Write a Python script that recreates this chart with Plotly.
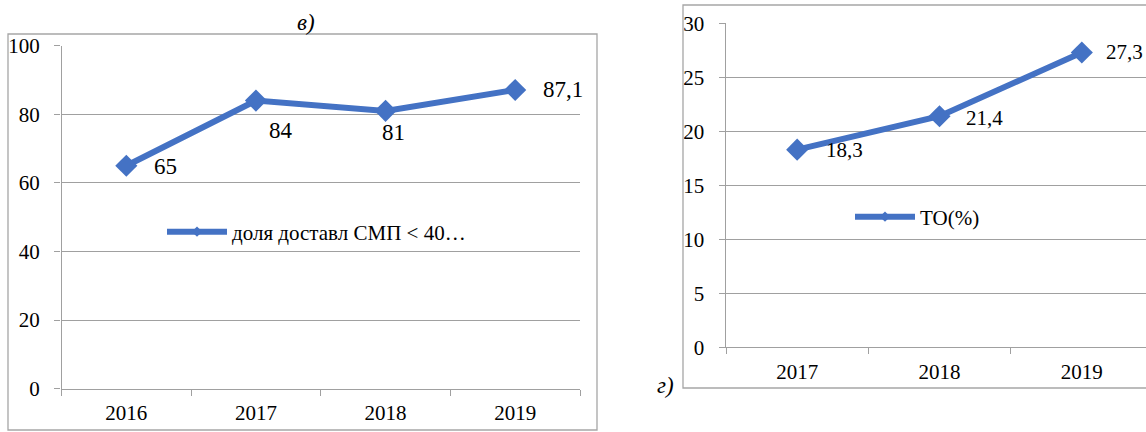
import plotly.graph_objects as go

W, H = 1146, 432

# ---- data ----
years_v = ["2016", "2017", "2018", "2019"]
share_v = [65, 84, 81, 87.1]
labels_v = ["65", "84", "81", "87,1"]
name_v = "доля доставл СМП < 40…"

years_g = ["2017", "2018", "2019"]
to_g = [18.3, 21.4, 27.3]
labels_g = ["18,3", "21,4", "27,3"]
name_g = "ТО(%)"

# ---- style ----
BLUE = "#4472C4"
GRID = "#A0A0A0"
FONT = "Liberation Serif"

def px(x):
    return x / W

def py(y):
    return 1 - y / H

fig = go.Figure()

# chart "в"
fig.add_trace(go.Scatter(x=years_v, y=share_v, mode="lines+markers",
                         line=dict(color=BLUE, width=6),
                         marker=dict(symbol="diamond", size=17, color=BLUE),
                         showlegend=False, xaxis="x", yaxis="y"))
fig.add_trace(go.Scatter(x=[None], y=[None], mode="lines+markers", name=name_v,
                         line=dict(color=BLUE, width=6),
                         marker=dict(symbol="diamond", size=8, color=BLUE),
                         legend="legend", xaxis="x", yaxis="y"))

# chart "г"
fig.add_trace(go.Scatter(x=years_g, y=to_g, mode="lines+markers",
                         line=dict(color=BLUE, width=6),
                         marker=dict(symbol="diamond", size=17, color=BLUE),
                         showlegend=False, xaxis="x2", yaxis="y2"))
fig.add_trace(go.Scatter(x=[None], y=[None], mode="lines+markers", name=name_g,
                         line=dict(color=BLUE, width=6),
                         marker=dict(symbol="diamond", size=8, color=BLUE),
                         legend="legend2", xaxis="x2", yaxis="y2"))

label_font_v = dict(family=FONT, size=23, color="black")
label_font_g = dict(family=FONT, size=21, color="black")

# data labels (x given as category index)
shifts_v = [(39, -1), (25, -30), (8, -22), (48, 0)]
for i, (yv, t, (dx, dy)) in enumerate(zip(share_v, labels_v, shifts_v)):
    fig.add_annotation(x=i, y=yv, xref="x", yref="y", text=t, showarrow=False,
                       xanchor="center", yanchor="middle",
                       xshift=dx, yshift=dy, font=label_font_v)
shifts_g = [(47, 0), (45, -2), (43, 0)]
for i, (yv, t, (dx, dy)) in enumerate(zip(to_g, labels_g, shifts_g)):
    fig.add_annotation(x=i, y=yv, xref="x2", yref="y2", text=t, showarrow=False,
                       xanchor="center", yanchor="middle",
                       xshift=dx, yshift=dy, font=label_font_g)

# panel captions
fig.add_annotation(x=px(306), y=py(23), xref="paper", yref="paper", text="<i>в)</i>",
                   showarrow=False, xanchor="center", yanchor="middle", font=label_font_v)
fig.add_annotation(x=px(665), y=py(385), xref="paper", yref="paper", text="<i>г)</i>",
                   showarrow=False, xanchor="center", yanchor="middle", font=label_font_v)

# chart frames
fig.add_shape(type="rect", xref="paper", yref="paper", x0=px(8), x1=px(597), y0=py(430), y1=py(34),
              line=dict(color="#A6A6A6", width=1.3))
fig.add_shape(type="rect", xref="paper", yref="paper", x0=px(683), x1=px(1160), y0=py(388), y1=py(5),
              line=dict(color="#A6A6A6", width=1.3))

axis_font = dict(family=FONT, size=21, color="black")
xcommon = dict(type="category", showgrid=False, showline=True, linecolor=GRID, linewidth=1.3,
               ticks="outside", tickson="boundaries", ticklen=6, tickcolor=GRID,
               tickfont=axis_font, ticklabelstandoff=5, automargin=False, fixedrange=True)
ycommon = dict(showgrid=True, gridcolor=GRID, gridwidth=1.3, showline=True, linecolor=GRID,
               linewidth=1.3, zeroline=False, ticks="outside", ticklen=6, tickcolor=GRID,
               tickfont=axis_font, automargin=False, fixedrange=True)

fig.update_layout(
    width=W, height=H, margin=dict(l=0, r=0, t=0, b=0, autoexpand=False),
    paper_bgcolor="white", plot_bgcolor="white",
    font=dict(family=FONT, size=21, color="black"),
    xaxis=dict(xcommon, domain=[px(61.5), px(580)], range=[-0.5, 3.5], anchor="y"),
    yaxis=dict(ycommon, domain=[py(388.7), py(45.7)], range=[0, 100], dtick=20, anchor="x",
               ticksuffix="  "),
    xaxis2=dict(xcommon, domain=[px(726), 1], range=[-0.5, 2.451], anchor="y2"),
    yaxis2=dict(ycommon, domain=[py(347.3), py(23.3)], range=[0, 30], dtick=5, anchor="x2",
                ticksuffix="  "),
    legend=dict(x=px(162), y=py(232), xanchor="left", yanchor="middle",
                bgcolor="rgba(0,0,0,0)", font=dict(family=FONT, size=21, color="black"),
                itemwidth=60),
    legend2=dict(x=px(850), y=py(217), xanchor="left", yanchor="middle",
                 bgcolor="rgba(0,0,0,0)", font=dict(family=FONT, size=21, color="black"),
                 itemwidth=60),
)

fig.write_html("out.html")
